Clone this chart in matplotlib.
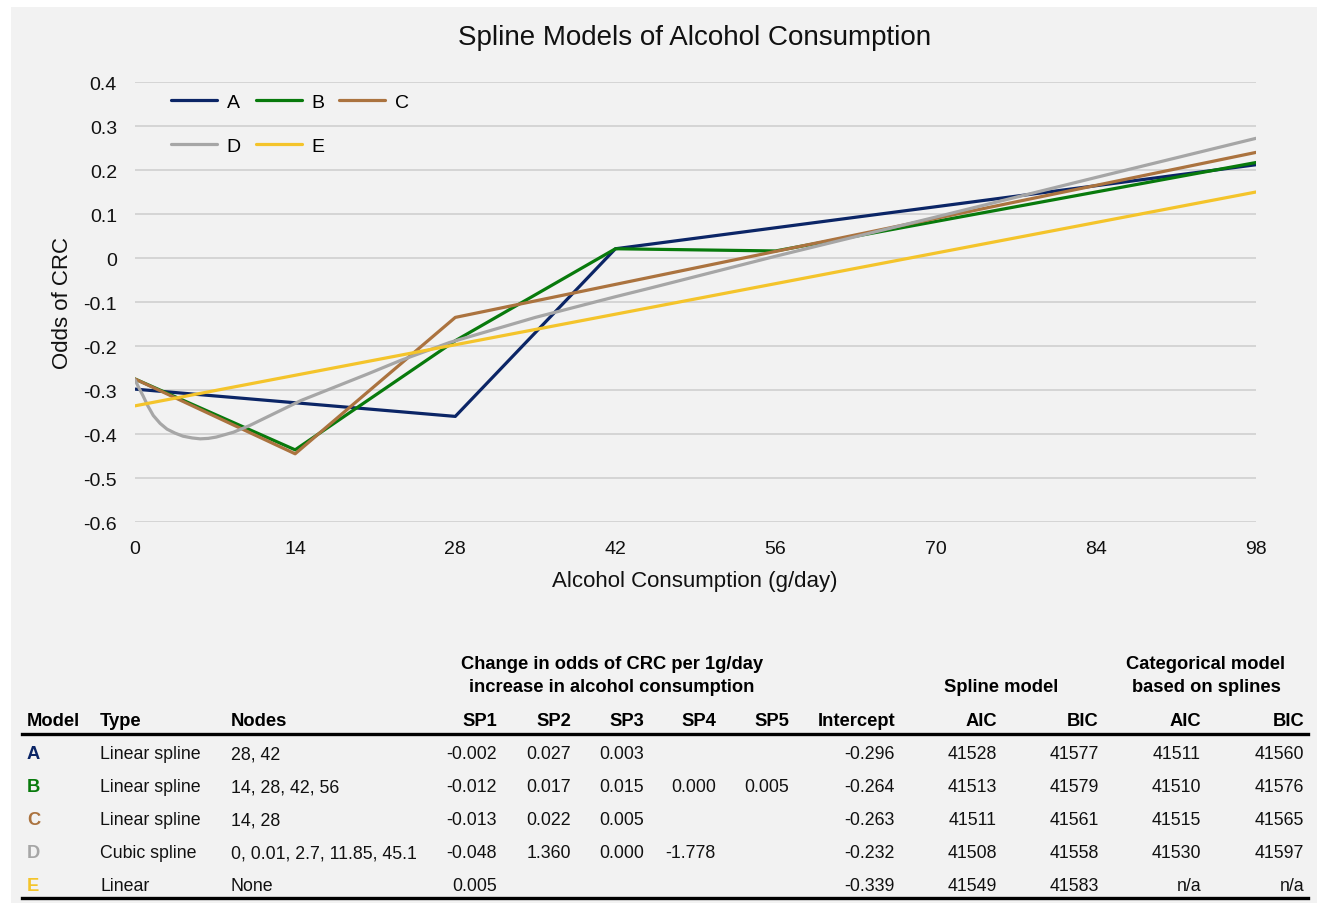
import matplotlib
matplotlib.use("Agg")
import matplotlib.pyplot as plt
from matplotlib.patches import Rectangle
from matplotlib.lines import Line2D

# ---------------- data ----------------
models = ["A", "B", "C", "D", "E"]
A_x = [0, 28, 42, 98]
A_y = [-0.298, -0.360, 0.021, 0.212]
B_x = [0, 14, 28, 42, 56, 98]
B_y = [-0.275, -0.436, -0.188, 0.021, 0.016, 0.217]
C_x = [0, 14, 28, 98]
C_y = [-0.275, -0.445, -0.135, 0.240]
D_x = [0, 0.3, 0.7, 1.1, 1.6, 2.2, 2.8, 3.5, 4.2, 5.0, 5.7, 6.4, 7.1, 8.6, 10,
       11.5, 13, 14.5, 17.4, 20.3, 23.2, 27.5, 35, 42, 45.1, 56, 70, 84, 98]
D_y = [-0.277, -0.293, -0.313, -0.335, -0.358, -0.376, -0.389, -0.398, -0.405,
       -0.409, -0.411, -0.410, -0.407, -0.396, -0.381, -0.362, -0.343, -0.324,
       -0.294, -0.264, -0.233, -0.192, -0.135, -0.088, -0.068, 0.004, 0.093,
       0.183, 0.272]
E_x = [0, 98]
E_y = [-0.336, 0.150]

x_ticks = [0, 14, 28, 42, 56, 70, 84, 98]
y_ticks = [-0.6, -0.5, -0.4, -0.3, -0.2, -0.1, 0, 0.1, 0.2, 0.3, 0.4]
y_tick_labels = ["-0.6", "-0.5", "-0.4", "-0.3", "-0.2", "-0.1", "0", "0.1", "0.2", "0.3", "0.4"]

# table data
tbl_type = ["Linear spline", "Linear spline", "Linear spline", "Cubic spline", "Linear"]
tbl_nodes = ["28, 42", "14, 28, 42, 56", "14, 28", "0, 0.01, 2.7, 11.85, 45.1", "None"]
tbl_sp1 = ["-0.002", "-0.012", "-0.013", "-0.048", "0.005"]
tbl_sp2 = ["0.027", "0.017", "0.022", "1.360", ""]
tbl_sp3 = ["0.003", "0.015", "0.005", "0.000", ""]
tbl_sp4 = ["", "0.000", "", "-1.778", ""]
tbl_sp5 = ["", "0.005", "", "", ""]
tbl_intercept = ["-0.296", "-0.264", "-0.263", "-0.232", "-0.339"]
tbl_aic = ["41528", "41513", "41511", "41508", "41549"]
tbl_bic = ["41577", "41579", "41561", "41558", "41583"]
tbl_cat_aic = ["41511", "41510", "41515", "41530", "n/a"]
tbl_cat_bic = ["41560", "41576", "41565", "41597", "n/a"]
col_headers = ["Model", "Type", "Nodes", "SP1", "SP2", "SP3", "SP4", "SP5",
               "Intercept", "AIC", "BIC", "AIC", "BIC"]

# ---------------- style ----------------
colors = ["#0B2566", "#087A0C", "#AB733F", "#A6A6A6", "#F4C42B"]
FONT = "Liberation Sans"
plt.rcParams["font.family"] = [FONT, "DejaVu Sans"]

W, H = 1317, 904
fig = plt.figure(figsize=(W / 100, H / 100), dpi=100)
fig.patch.set_facecolor("white")
fig.patches.append(Rectangle((11 / W, 0), 1 - 11 / W, 1 - 8 / H,
                             transform=fig.transFigure, facecolor="#F2F2F2",
                             edgecolor="none", zorder=-10))


def fx(px):
    return px / W


def fy(py):
    return 1 - py / H


ax = fig.add_axes([fx(135), fy(523), fx(1256) - fx(135), fy(83) - fy(523)])
ax.set_facecolor("none")

series = [(A_x, A_y), (B_x, B_y), (C_x, C_y), (D_x, D_y), (E_x, E_y)]
handles = []
for (xs, ys), c, name in zip(series, colors, models):
    ln, = ax.plot(xs, ys, color=c, lw=2.3, solid_capstyle="round",
                  solid_joinstyle="round", label=name)
    handles.append(ln)

ax.set_xlim(0, 98)
ax.set_ylim(-0.6, 0.4)
ax.set_xticks(x_ticks)
ax.set_xticklabels([str(v) for v in x_ticks])
ax.set_yticks(y_ticks)
ax.set_yticklabels(y_tick_labels)
ax.tick_params(axis="both", length=0, labelsize=14, colors="#111111")
ax.tick_params(axis="y", pad=13)
ax.tick_params(axis="x", pad=13)
ax.grid(axis="y", color="#D0D0D0", lw=1.2)
ax.grid(axis="x", visible=False)
ax.set_axisbelow(True)
for s in ax.spines.values():
    s.set_visible(False)

# legend (row 1: A B C, row 2: D E)
order = [0, 3, 1, 4, 2]
leg = ax.legend([handles[i] for i in order], [models[i] for i in order],
                ncol=3, loc="upper left", bbox_to_anchor=(fx(171), fy(94)),
                bbox_transform=fig.transFigure, frameon=False, fontsize=14,
                handlelength=2.37, handletextpad=0.5, columnspacing=0.75,
                labelspacing=1.36, borderpad=0, borderaxespad=0)

fig.text(fx(695), fy(38), "Spline Models of Alcohol Consumption", fontsize=20,
         ha="center", va="center", color="#111111")
fig.text(fx(695), fy(582), "Alcohol Consumption (g/day)", fontsize=16,
         ha="center", va="center", color="#111111")
fig.text(fx(63), fy(303), "Odds of CRC", fontsize=16, rotation=90,
         ha="center", va="center", color="#111111")

# ---------------- table ----------------
col_x = [27, 100, 231, 497, 571, 644, 716, 789, 895, 997, 1099, 1201, 1304]
col_ha = ["left", "left", "left"] + ["right"] * 10
row_y = [753, 786, 819, 852, 885]
hdr_y = 720
TS = 12.8
HS = 13.2
BL = 6.5  # baseline offset from row centre (px)

fig.text(fx(612), fy(663 + BL), "Change in odds of CRC per 1g/day", fontsize=HS,
         fontweight="bold", ha="center", va="baseline")
fig.text(fx(612), fy(686 + BL), "increase in alcohol consumption", fontsize=HS,
         fontweight="bold", ha="center", va="baseline")
fig.text(fx(1001), fy(686 + BL), "Spline model", fontsize=HS, fontweight="bold",
         ha="center", va="baseline")
fig.text(fx(1206), fy(663 + BL), "Categorical model", fontsize=HS, fontweight="bold",
         ha="center", va="baseline")
fig.text(fx(1206), fy(686 + BL), "based on splines", fontsize=HS, fontweight="bold",
         ha="center", va="baseline")

for cx, ha, lab in zip(col_x, col_ha, col_headers):
    fig.text(fx(cx), fy(hdr_y + BL), lab, fontsize=HS, fontweight="bold", ha=ha,
             va="baseline")

columns = [tbl_type, tbl_nodes, tbl_sp1, tbl_sp2, tbl_sp3, tbl_sp4, tbl_sp5,
           tbl_intercept, tbl_aic, tbl_bic, tbl_cat_aic, tbl_cat_bic]
for r, ry in enumerate(row_y):
    fig.text(fx(col_x[0]), fy(ry + BL), models[r], fontsize=HS, fontweight="bold",
             color=colors[r], ha="left", va="baseline")
    for ci, col in enumerate(columns):
        txt = col[r]
        if txt:
            fig.text(fx(col_x[ci + 1]), fy(ry + BL), txt, fontsize=TS,
                     ha=col_ha[ci + 1], va="baseline", color="#111111")

for ly in (735, 899):
    fig.add_artist(Line2D([fx(22), fx(1308)], [fy(ly), fy(ly)], color="black",
                          lw=2.4, transform=fig.transFigure))

fig.savefig("out.png", dpi=100, facecolor=fig.get_facecolor())
